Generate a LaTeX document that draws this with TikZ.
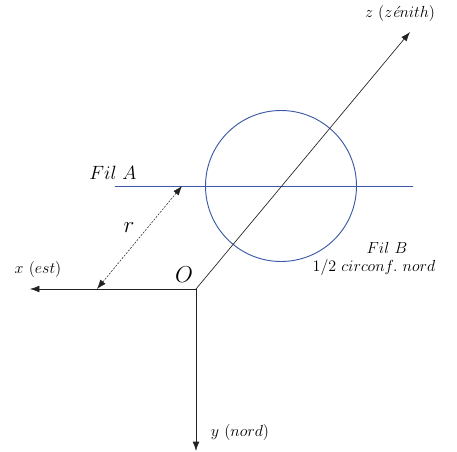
\documentclass[tikz,border=0pt]{standalone}
\usepackage{amsmath}
\usepackage{xcolor}
\usepackage{tikz}
\usetikzlibrary{positioning, calc, arrows.meta}
\definecolor{cfil}{HTML}{3A58A6}
\definecolor{caxe}{HTML}{222222}
\tikzset{
  axe/.style={caxe, line width=0.5pt, -{Latex[length=7pt, width=5pt]}},
  lbl/.style={font=\fontsize{12}{14}\selectfont, inner sep=1pt},
  biglbl/.style={font=\fontsize{16.5}{19}\selectfont, inner sep=1pt},
}

\begin{document}
\begin{tikzpicture}[x=0.75pt, y=-0.75pt]
\useasboundingbox (0,0) rectangle (457,452);

\coordinate (O) at (196,289);
\coordinate (xend) at (30,289);
\coordinate (yend) at (196,451);
\coordinate (zend) at (410,32);
\coordinate (C) at (281,186);

% fils
\draw[cfil, line width=0.7pt] (C) circle (75.5);
\coordinate (filAa) at (115,186);
\coordinate (filAb) at (413,186);
\draw[cfil, line width=0.7pt] (filAa) -- (filAb);

% axes
\draw[axe] (O) -- (xend);
\draw[axe] (O) -- (yend);
\draw[axe] (O) -- (zend);

% distance r
\coordinate (rA) at (97,289);
\coordinate (rB) at (182,186);
\draw[caxe, line width=0.4pt, dash pattern=on 1.5pt off 1pt,
  {Latex[length=7pt, width=5pt]}-{Latex[length=7pt, width=5pt]}] (rA) -- (rB);

\node[lbl] (lx) at (38,270) {$x\ (est)$};
\node[lbl] (ly) at (240,432) {$y\ (nord)$};
\node[lbl] (lz) at (400,14) {$z\ (z\text{\itshape é}nith)$};
\node[biglbl] (lO) at (184,275) {$O$};
\node[biglbl] (lr) at (129,228) {$r$};
\node[font=\fontsize{13.5}{16}\selectfont] (lA) at (113,173) {$Fil\ A$};
\node[lbl] (lB) at (387,248) {$Fil\ B$};
\node[lbl] (lB2) at (374,268) {$1/2\ circonf.\ nord$};

\end{tikzpicture}
\end{document}
